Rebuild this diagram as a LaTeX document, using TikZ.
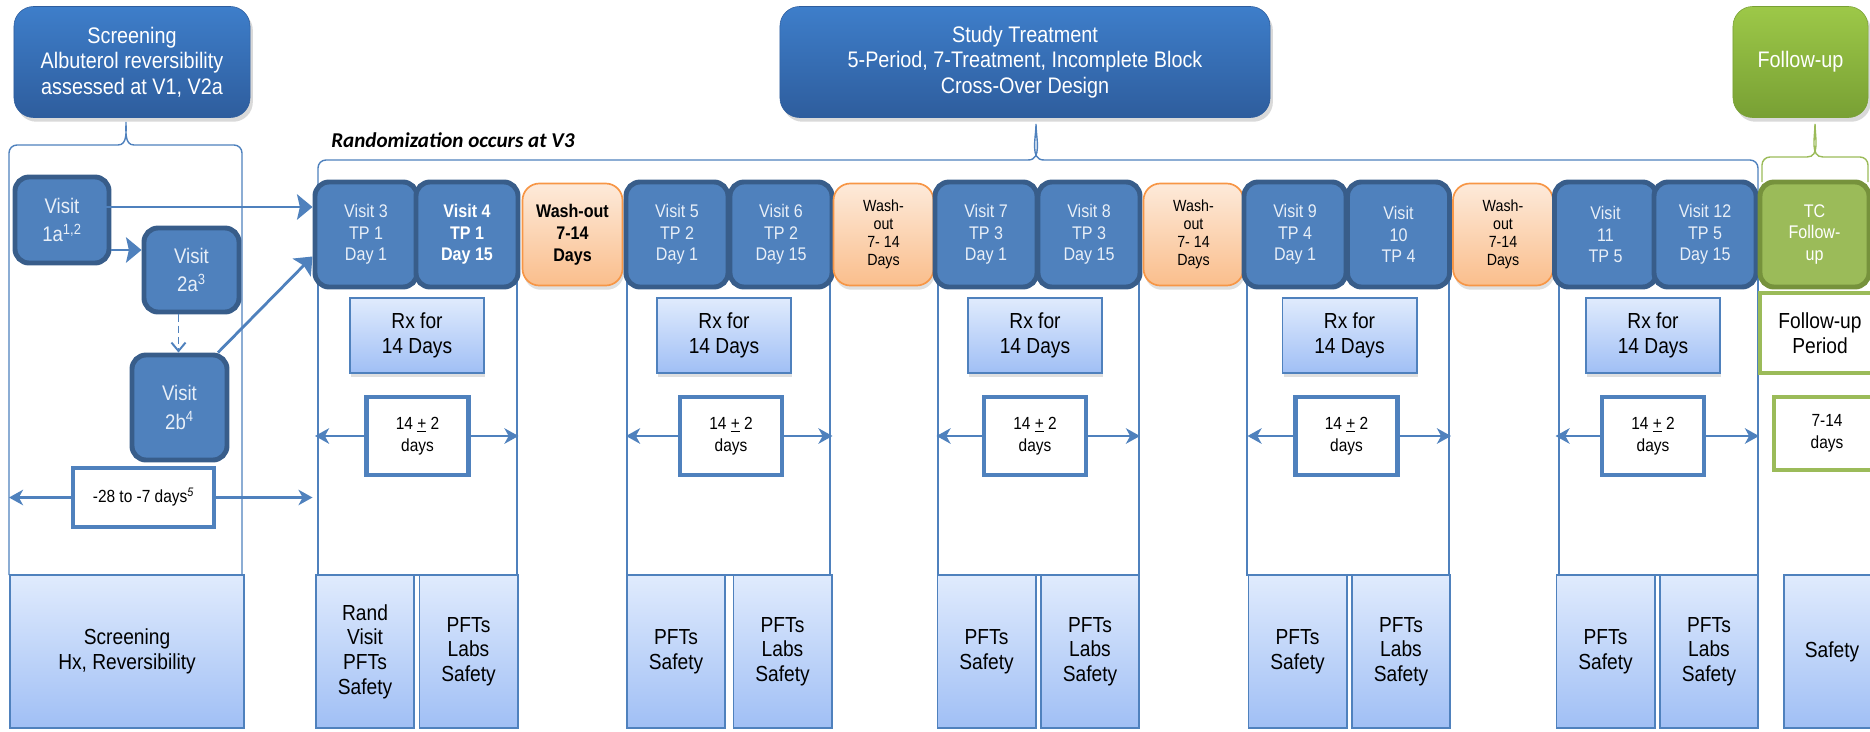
\documentclass[tikz,border=0pt]{standalone}
\usepackage{fontspec}
\setmainfont{Liberation Sans}[FakeStretch=0.88]
\newfontfamily\randfont{Carlito}
\usetikzlibrary{arrows.meta,shadows,calc}
\definecolor{hdrtop}{RGB}{62,126,202}
\definecolor{hdrbot}{RGB}{46,93,157}
\definecolor{visitblue}{RGB}{79,129,189}
\definecolor{visitedge}{RGB}{56,93,138}
\definecolor{visittext}{RGB}{232,239,248}
\definecolor{washtop}{RGB}{253,234,218}
\definecolor{washbot}{RGB}{250,190,140}
\definecolor{washedge}{RGB}{247,150,70}
\definecolor{rxtop}{RGB}{224,235,253}
\definecolor{rxbot}{RGB}{160,191,245}
\definecolor{futop}{RGB}{157,200,72}
\definecolor{fubot}{RGB}{120,160,52}
\definecolor{tcgreen}{RGB}{155,187,89}
\definecolor{tcedge}{RGB}{118,146,60}
\begin{document}
\begin{tikzpicture}[x=0.025cm,y=-0.025cm,
  hdr/.style={rounded corners=14pt,top color=hdrtop,bottom color=hdrbot,draw=hdrbot,text=white,align=center,inner sep=0pt,minimum height=2.775cm,drop shadow={opacity=0.3,shadow xshift=2pt,shadow yshift=-3pt},font=\fontsize{16}{18}\selectfont},
  visitbox/.style={rounded corners=10pt,fill=visitblue,draw=visitedge,line width=3.5pt,text=visittext,align=center,inner sep=0pt,minimum width=2.55cm,minimum height=2.625cm,font=\fontsize{13}{15.4}\selectfont},
  washbox/.style={rounded corners=12pt,top color=washtop,bottom color=washbot,draw=washedge,line width=1.2pt,align=center,inner sep=0pt,minimum width=2.5cm,minimum height=2.55cm,font=\fontsize{11.5}{12.8}\selectfont,drop shadow={opacity=0.25,shadow xshift=1pt,shadow yshift=-3pt}},
  rxbox/.style={top color=rxtop,bottom color=rxbot,draw=visitblue,line width=1.4pt,align=center,inner sep=0pt,minimum width=3.35cm,minimum height=1.875cm,font=\fontsize{15.5}{17.8}\selectfont,drop shadow={opacity=0.25,shadow xshift=1pt,shadow yshift=-3pt}},
  spanbox/.style={fill=white,draw=visitblue,line width=3pt,align=center,inner sep=0pt,minimum width=2.55cm,minimum height=1.95cm,font=\fontsize{12.5}{15.5}\selectfont},
  taskbox/.style={top color=rxtop,bottom color=rxbot,draw=visitblue,line width=1.4pt,align=center,inner sep=0pt,minimum width=2.45cm,minimum height=3.825cm,font=\fontsize{15.5}{17.5}\selectfont},
  bline/.style={draw=visitblue,line width=1pt},
  gline/.style={draw=tcgreen,line width=1pt},
  conn/.style={visitblue,line width=2pt,-{Stealth[length=11pt,width=18pt,inset=2pt]}},
  dconn/.style={visitblue,line width=1.4pt,dash pattern=on 5pt off 3pt,-{Straight Barb[length=6pt,width=10pt]}},
  spanarrow/.style={visitblue,line width=2pt,-{Stealth[length=10pt,width=11pt,inset=3pt]}}]
\useasboundingbox (0,0) rectangle (1870,731);
\draw[bline] (9,575) -- (9,153) to[out=90,in=180] (17,145) -- (118,145) to[out=0,in=-90] (126,122) to[out=-90,in=180] (134,145) -- (234,145) to[out=0,in=90] (242,153) -- (242,575);
\draw[bline] (318,575) -- (318,168) to[out=90,in=180] (326,160) -- (1028,160) to[out=0,in=-90] (1036,124) to[out=-90,in=180] (1044,160) -- (1750,160) to[out=0,in=90] (1758,168) -- (1758,575);
\draw[gline] (1762,182) -- (1762,165) to[out=90,in=180] (1770,157) -- (1807,157) to[out=0,in=-90] (1815,124) to[out=-90,in=180] (1823,157) -- (1860,157) to[out=0,in=90] (1868,165) -- (1868,182);
\draw[bline] (318,260) rectangle (517,575);
\draw[bline] (627,260) rectangle (830,575);
\draw[bline] (938,260) rectangle (1139,575);
\draw[bline] (1247,260) rectangle (1449,575);
\draw[bline] (1559,260) rectangle (1758,575);
\node[hdr,minimum width=5.9cm] (scr) at (132,62) {Screening\\Albuterol reversibility\\assessed at V1, V2a};
\node[hdr,minimum width=12.25cm] (study) at (1025,62) {Study Treatment\\5-Period, 7-Treatment, Incomplete Block\\Cross-Over Design};
\node[hdr,top color=futop,bottom color=fubot,draw=fubot,minimum width=3.375cm] (fu) at (1800.5,62) {Follow-up};
\node[anchor=west,inner sep=0pt,font=\randfont\fontsize{15}{17}\selectfont\bfseries\itshape] (rand) at (331,140) {Randomization occurs at V3};
\node[visitbox,minimum width=2.35cm,minimum height=2.15cm,font=\fontsize{15}{20}\selectfont] (v1a) at (62,220) {Visit\\1a\textsuperscript{1,2}};
\node[visitbox,minimum width=2.375cm,minimum height=2.1cm,font=\fontsize{15}{20}\selectfont] (v2a) at (191.5,270) {Visit\\2a\textsuperscript{3}};
\node[visitbox,minimum width=2.375cm,font=\fontsize{15}{20}\selectfont] (v2b) at (179.5,407.5) {Visit\\2b\textsuperscript{4}};
\node[visitbox] (v3) at (366,234.5) {Visit 3\\TP 1\\Day 1};
\node[visitbox,text=white,font=\fontsize{13}{15.4}\selectfont\bfseries] (v4) at (467,234.5) {Visit 4\\TP 1\\Day 15};
\node[washbox,font=\fontsize{13}{15.5}\selectfont\bfseries] (wo1) at (572.5,234.5) {Wash-out\\7-14\\Days};
\node[visitbox] (v5) at (677,234.5) {Visit 5\\TP 2\\Day 1};
\node[visitbox] (v6) at (781,234.5) {Visit 6\\TP 2\\Day 15};
\node[washbox] (wo2) at (883.5,234.5) {Wash-\\out\\7- 14\\Days};
\node[visitbox] (v7) at (986,234.5) {Visit 7\\TP 3\\Day 1};
\node[visitbox] (v8) at (1089,234.5) {Visit 8\\TP 3\\Day 15};
\node[washbox] (wo3) at (1193.5,234.5) {Wash-\\out\\7- 14\\Days};
\node[visitbox] (v9) at (1295,234.5) {Visit 9\\TP 4\\Day 1};
\node[visitbox] (v10) at (1398.5,234.5) {Visit\\10\\TP 4};
\node[washbox] (wo4) at (1503,234.5) {Wash-\\out\\7-14\\Days};
\node[visitbox] (v11) at (1605.5,234.5) {Visit\\11\\TP 5};
\node[visitbox] (v12) at (1705,234.5) {Visit 12\\TP 5\\Day 15};
\node[visitbox,fill=tcgreen,draw=tcedge,text=white,minimum width=2.725cm] (tc) at (1814.5,234.5) {TC\\Follow-\\up};
\node[rxbox] (rx1) at (417,335.5) {Rx for\\14 Days};
\node[rxbox] (rx2) at (724,335.5) {Rx for\\14 Days};
\node[rxbox] (rx3) at (1035,335.5) {Rx for\\14 Days};
\node[rxbox] (rx4) at (1349.5,335.5) {Rx for\\14 Days};
\node[rxbox] (rx5) at (1653,335.5) {Rx for\\14 Days};
\node[spanbox,draw=tcgreen,minimum width=3cm,minimum height=2cm,font=\fontsize{15.5}{17.8}\selectfont] (fup) at (1820,333) {Follow-up\\Period};
\node[spanbox] (d1) at (417.5,436) {14 \underline{+} 2\\days};
\node[spanbox] (d2) at (731,436) {14 \underline{+} 2\\days};
\node[spanbox] (d3) at (1035,436) {14 \underline{+} 2\\days};
\node[spanbox] (d4) at (1346.5,436) {14 \underline{+} 2\\days};
\node[spanbox] (d5) at (1653,436) {14 \underline{+} 2\\days};
\node[spanbox,draw=tcgreen,minimum width=2.65cm,minimum height=1.825cm] (d6) at (1827,433.5) {7-14\\days};
\node[spanbox,minimum width=3.525cm,minimum height=1.475cm] (scrdays) at (143.5,497.5) {-28 to -7 days\textsuperscript{\itshape 5}};
\node[taskbox,minimum width=5.85cm] (bs) at (127,651.5) {Screening\\Hx, Reversibility};
\node[taskbox] (b1) at (365,651.5) {Rand\\Visit\\PFTs\\Safety};
\node[taskbox] (b2) at (468.5,651.5) {PFTs\\Labs\\Safety};
\node[taskbox] (b3) at (676,651.5) {PFTs\\Safety};
\node[taskbox] (b4) at (782.5,651.5) {PFTs\\Labs\\Safety};
\node[taskbox] (b5) at (986.5,651.5) {PFTs\\Safety};
\node[taskbox] (b6) at (1090,651.5) {PFTs\\Labs\\Safety};
\node[taskbox] (b7) at (1297.5,651.5) {PFTs\\Safety};
\node[taskbox] (b8) at (1401,651.5) {PFTs\\Labs\\Safety};
\node[taskbox] (b9) at (1605.5,651.5) {PFTs\\Safety};
\node[taskbox] (b10) at (1709,651.5) {PFTs\\Labs\\Safety};
\node[taskbox,minimum width=2.4cm] (b11) at (1832,651.5) {Safety};
\coordinate (a1) at ($(v1a.east)+(-21,-13)$);
\coordinate (a2) at ($(v1a.east)+(0,30)$);
\coordinate (a3) at ($(v2a.south)+(-13,0)$);
\coordinate (a4) at ($(v3.west)+(0,22)$);
\draw[conn] (a1) -- (a1 -| v3.west);
\draw[conn] (a2) -- (a2 -| v2a.west);
\draw[dconn] (a3) -- (a3 |- v2b.north);
\draw[conn] (v2b.55) -- (a4);
\draw[spanarrow] (scrdays.west) -- (scrdays.west -| bs.west);
\draw[spanarrow] (scrdays.east) -- (scrdays.east -| v3.west);
\draw[spanarrow] (d1.west) -- (d1.west -| b1.west);
\draw[spanarrow] (d1.east) -- (d1.east -| b2.east);
\draw[spanarrow] (d2.west) -- (d2.west -| b3.west);
\draw[spanarrow] (d2.east) -- (d2.east -| b4.east);
\draw[spanarrow] (d3.west) -- (d3.west -| b5.west);
\draw[spanarrow] (d3.east) -- (d3.east -| b6.east);
\draw[spanarrow] (d4.west) -- (d4.west -| b7.west);
\draw[spanarrow] (d4.east) -- (d4.east -| b8.east);
\draw[spanarrow] (d5.west) -- (d5.west -| b9.west);
\draw[spanarrow] (d5.east) -- (d5.east -| b10.east);
\end{tikzpicture}
\end{document}
